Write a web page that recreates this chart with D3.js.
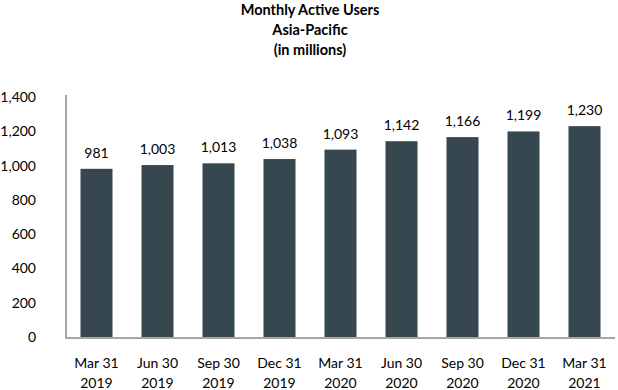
<!DOCTYPE html>
<html><head><meta charset="utf-8">
<script src="https://cdn.jsdelivr.net/npm/d3@7"></script>
<style>body{margin:0;background:#fff;} text{font-family:Lato,"Open Sans",sans-serif;}</style>
</head><body>
<svg id="c" width="618" height="390"></svg>
<script>
const categories = [["Mar 31","2019"],["Jun 30","2019"],["Sep 30","2019"],["Dec 31","2019"],["Mar 31","2020"],["Jun 30","2020"],["Sep 30","2020"],["Dec 31","2020"],["Mar 31","2021"]];
const values = [981,1003,1013,1038,1093,1142,1166,1199,1230];
const yTicks = [0,200,400,600,800,1000,1200,1400];
const titleLines = ["Monthly Active Users","Asia-Pacific","(in millions)"];

const svg = d3.select("#c");
const x = d3.scaleBand().domain(categories.map((d,i)=>i)).range([66,615]).paddingInner(0.475).paddingOuter(0.2375);
const y = d3.scaleLinear().domain([0,1400]).range([337,97]);
const fmt = d3.format(",");

svg.append("g").selectAll("text").data(titleLines).join("text")
  .attr("x",310).attr("y",(d,i)=>15+i*20).attr("text-anchor","middle")
  .attr("font-size",14.5).attr("font-weight","bold").attr("fill","#000").text(d=>d);

svg.append("g").selectAll("text").data(yTicks).join("text")
  .attr("x",36).attr("y",d=>y(d)+5).attr("text-anchor","end")
  .attr("font-size",14).attr("fill","#000").text(d=>fmt(d));

svg.append("g").selectAll("rect").data(values).join("rect")
  .attr("x",(d,i)=>x(i)).attr("width",x.bandwidth())
  .attr("y",d=>y(d)).attr("height",d=>y(0)-y(d)).attr("fill","#36474f");

svg.append("g").selectAll("text").data(values).join("text")
  .attr("x",(d,i)=>x(i)+x.bandwidth()/2).attr("y",d=>y(d)-11)
  .attr("text-anchor","middle").attr("font-size",14).attr("fill","#000").text(d=>fmt(d));

svg.append("line").attr("x1",66).attr("x2",66).attr("y1",95).attr("y2",338).attr("stroke","#a6a6a6").attr("stroke-width",2);
svg.append("line").attr("x1",65).attr("x2",615).attr("y1",338).attr("y2",338).attr("stroke","#a6a6a6").attr("stroke-width",2);

const xl = svg.append("g").selectAll("text").data(categories).join("text")
  .attr("text-anchor","middle").attr("font-size",14).attr("fill","#000");
xl.append("tspan").attr("x",(d,i)=>x(i)+x.bandwidth()/2).attr("y",368).text(d=>d[0]);
xl.append("tspan").attr("x",(d,i)=>x(i)+x.bandwidth()/2).attr("y",388).text(d=>d[1]);
</script>
</body></html>
